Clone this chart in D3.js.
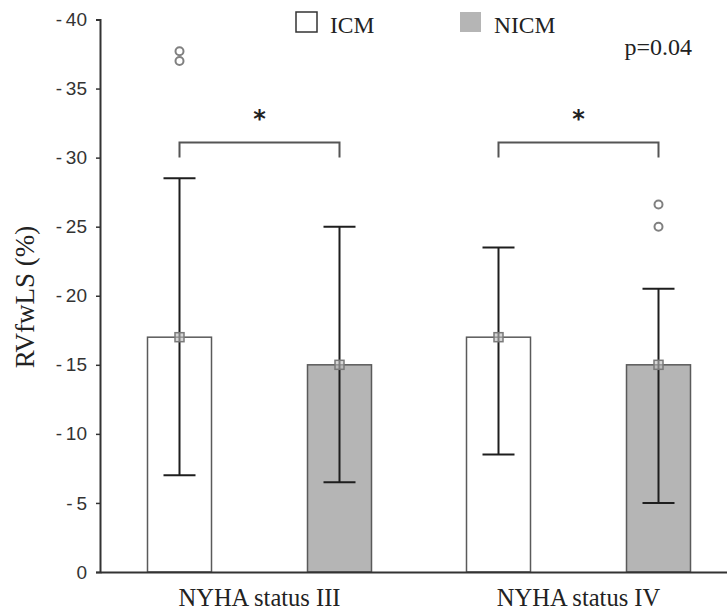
<!DOCTYPE html>
<html><head><meta charset="utf-8">
<script src="https://cdn.jsdelivr.net/npm/d3@7"></script>
<style>body{margin:0;background:#fff}</style>
</head><body>
<svg id="c" width="727" height="614"></svg>
<script>
const groups = ["NYHA status III", "NYHA status IV"];
const series = ["ICM", "NICM"];
const seriesFill = ["#ffffff", "#b5b5b5"];
// mean RVfwLS (%) per group, per series
const meanICM  = [-17.0, -17.0];
const meanNICM = [-15.0, -15.0];
// error bar upper (more negative) and lower ends
const upperICM  = [-28.5, -23.5];
const lowerICM  = [-7.0, -8.5];
const upperNICM = [-25.0, -20.5];
const lowerNICM = [-6.5, -5.0];
// outliers
const outlierGroup  = ["NYHA status III", "NYHA status III", "NYHA status IV", "NYHA status IV"];
const outlierSeries = ["ICM", "ICM", "NICM", "NICM"];
const outlierValue  = [-37.7, -37.0, -26.6, -25.0];
const yTicks = [0, -5, -10, -15, -20, -25, -30, -35, -40];
const bracketValue = -31.1;
const pText = "p=0.04";

const svg = d3.select("#c");
const y = d3.scaleLinear().domain([0, -40]).range([572, 19.5]);
const x = d3.scaleBand().domain(groups).range([100, 738]);
const xi = d3.scalePoint().domain(series).range([-80, 80]);
const bw = 64;

const rows = [];
groups.forEach((g, i) => {
  rows.push({g, s: "ICM", mean: meanICM[i], up: upperICM[i], lo: lowerICM[i], fill: seriesFill[0]});
  rows.push({g, s: "NICM", mean: meanNICM[i], up: upperNICM[i], lo: lowerNICM[i], fill: seriesFill[1]});
});
const cx = d => x(d.g) + x.bandwidth() / 2 + xi(d.s);

// bars
svg.append("g").selectAll("rect").data(rows).join("rect")
  .attr("x", d => cx(d) - bw / 2).attr("width", bw)
  .attr("y", d => y(d.mean)).attr("height", d => y(0) - y(d.mean))
  .attr("fill", d => d.fill).attr("stroke", "#5a5a5a").attr("stroke-width", 1.5);

// error bars
const eb = svg.append("g").attr("stroke", "#1e1e1e").attr("stroke-width", 2);
eb.selectAll("line.v").data(rows).join("line").attr("class", "v")
  .attr("x1", cx).attr("x2", cx).attr("y1", d => y(d.up)).attr("y2", d => y(d.lo));
eb.selectAll("line.u").data(rows).join("line").attr("class", "u")
  .attr("x1", d => cx(d) - 16).attr("x2", d => cx(d) + 16).attr("y1", d => y(d.up)).attr("y2", d => y(d.up));
eb.selectAll("line.l").data(rows).join("line").attr("class", "l")
  .attr("x1", d => cx(d) - 16).attr("x2", d => cx(d) + 16).attr("y1", d => y(d.lo)).attr("y2", d => y(d.lo));

// mean markers
svg.append("g").selectAll("rect").data(rows).join("rect")
  .attr("x", d => cx(d) - 4.5).attr("y", d => y(d.mean) - 4.5).attr("width", 9).attr("height", 9)
  .attr("fill", "#bdbdbd").attr("fill-opacity", 0.6).attr("stroke", "#7a7a7a").attr("stroke-width", 1.5);

// outliers
svg.append("g").selectAll("circle").data(outlierValue).join("circle")
  .attr("cx", (v, i) => x(outlierGroup[i]) + x.bandwidth() / 2 + xi(outlierSeries[i]))
  .attr("cy", v => y(v)).attr("r", 4)
  .attr("fill", "#fff").attr("stroke", "#808080").attr("stroke-width", 2);

// brackets + stars
groups.forEach(g => {
  const x1 = x(g) + x.bandwidth() / 2 + xi("ICM"), x2 = x(g) + x.bandwidth() / 2 + xi("NICM");
  const yb = y(bracketValue);
  svg.append("path").attr("d", `M${x1},${yb + 15}V${yb}H${x2}V${yb + 15}`)
    .attr("fill", "none").attr("stroke", "#555").attr("stroke-width", 2);
  svg.append("text").attr("x", (x1 + x2) / 2).attr("y", yb - 15).attr("text-anchor", "middle")
    .attr("font-family", "DejaVu Sans, sans-serif").attr("font-size", 24).attr("font-weight", "bold")
    .attr("fill", "#222").text("*");
});

// y axis
const ya = svg.append("g").attr("transform", "translate(100,0)")
  .call(d3.axisLeft(y).tickValues(yTicks).tickSize(4).tickPadding(9)
    .tickFormat(d => d === 0 ? "0" : "-\u2009" + Math.abs(d)));
ya.select(".domain").attr("stroke", "#333").attr("stroke-width", 2);
ya.selectAll(".tick line").attr("stroke", "#333").attr("stroke-width", 1.5);
ya.selectAll(".tick text").attr("font-family", "Liberation Sans, Arial, sans-serif")
  .attr("font-size", 19).attr("fill", "#333");

// x axis
const xa = svg.append("g").attr("transform", "translate(0,572)")
  .call(d3.axisBottom(x).tickSize(0).tickPadding(17));
xa.select(".domain").attr("stroke", "#333").attr("stroke-width", 2);
xa.selectAll(".tick text").attr("font-family", "Liberation Serif, Times New Roman, serif")
  .attr("font-size", 24.5).attr("fill", "#222");

// y title
svg.append("text").attr("transform", "translate(34,297) rotate(-90)").attr("text-anchor", "middle")
  .attr("font-family", "Liberation Serif, Times New Roman, serif").attr("font-size", 27).attr("fill", "#222")
  .text("RVfwLS (%)");

// legend
const legX = [295, 459];
series.forEach((s, i) => {
  svg.append("rect").attr("x", legX[i] + 1).attr("y", 12).attr("width", 21).attr("height", 20)
    .attr("fill", seriesFill[i])
    .attr("stroke", i === 0 ? "#333" : "none").attr("stroke-width", 1.5);
  svg.append("text").attr("x", legX[i] + 35).attr("y", 33)
    .attr("font-family", "Liberation Serif, Times New Roman, serif").attr("font-size", 23.5).attr("fill", "#222")
    .text(s);
});
svg.append("text").attr("x", 692).attr("y", 55).attr("text-anchor", "end")
  .attr("font-family", "Liberation Serif, Times New Roman, serif").attr("font-size", 24).attr("fill", "#222")
  .text(pText);
</script>
</body></html>
